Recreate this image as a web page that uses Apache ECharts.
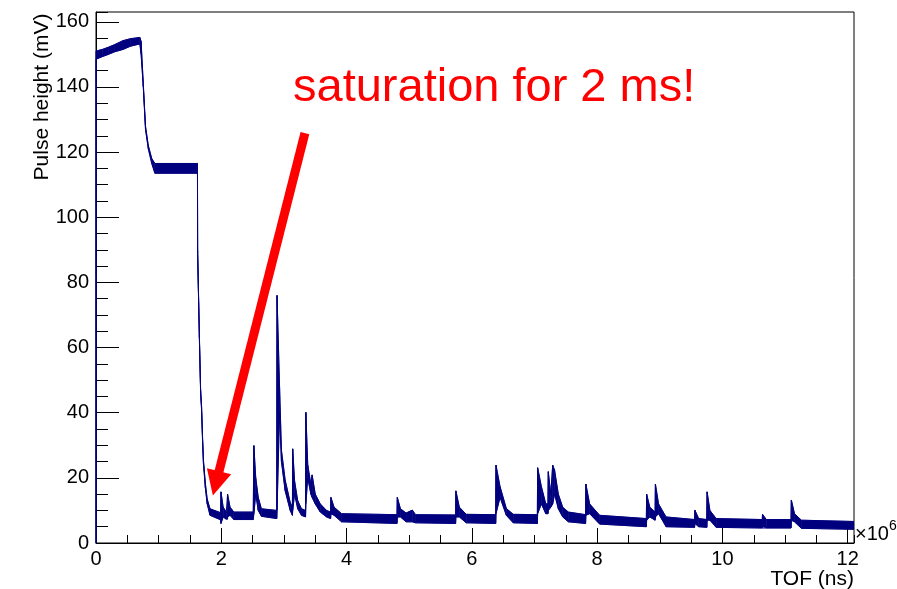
<!DOCTYPE html>
<html><head><meta charset="utf-8">
<script src="https://cdn.jsdelivr.net/npm/echarts@6/dist/echarts.min.js"></script>
<style>html,body{margin:0;padding:0;background:#fff}#c{width:897px;height:589px}</style>
</head><body><div id="c"></div>
<script>
// TOF in units of 1e6 ns
const tof = [
0, 0, 0.1, 0.2, 0.3, 0.43, 0.55, 0.70, 0.72, 0.755,
0.79, 0.835, 0.89, 0.94, 1.62, 1.622, 1.65, 1.67, 1.685, 1.70,
1.715, 1.745, 1.775, 1.82, 1.99, 1.995, 2.03, 2.08, 2.10, 2.10,
2.14, 2.2, 2.51, 2.52, 2.55, 2.59, 2.64, 2.885, 2.89, 2.93,
2.96, 3.02, 3.10, 3.135, 3.14, 3.17, 3.22, 3.28, 3.345, 3.35,
3.38, 3.43, 3.45, 3.5, 3.58, 3.68, 3.745, 3.75, 3.8, 3.92,
4.805, 4.81, 4.86, 4.95, 5.05, 5.1, 5.74, 5.745, 5.8, 5.91,
6.38, 6.385, 6.45, 6.55, 6.66, 7.045, 7.05, 7.11, 7.18, 7.215,
7.22, 7.26, 7.29, 7.32, 7.38, 7.45, 7.54, 7.815, 7.82, 7.88,
8.04, 8.785, 8.79, 8.84, 8.925, 8.93, 8.98, 9.10, 9.555, 9.56,
9.62, 9.75, 9.755, 9.8, 9.90, 10.635, 10.64, 10.7, 11.095, 11.10,
11.15, 11.26, 12.1
];
// upper edge of the noisy trace (mV)
const upper = [
0, 151, 151.5, 152.2, 153, 154.2, 154.8, 155.2, 154, 141,
128, 122, 118, 116.5, 116.5, 90, 64, 47, 42, 33,
25.5, 18.4, 13.5, 10.5, 9.3, 15.7, 11, 9.5, 9.5, 15,
11, 9.5, 9.5, 29.9, 20, 14, 10.5, 10, 76, 48,
28.5, 19.3, 12.5, 11, 28.9, 19, 13, 10.5, 10, 40.1,
24, 18, 20.9, 15, 12, 10, 9.5, 14, 11, 9,
8.7, 14, 10.5, 9.2, 10.1, 8.7, 8.6, 16, 11, 8.8,
8.7, 23.9, 17.3, 10.6, 8.8, 8.7, 23.1, 17.3, 12, 12,
21.9, 15, 23.9, 22.4, 15, 11, 9.5, 8.7, 18.1, 12,
8.5, 7.5, 15, 11, 9.5, 18.1, 12, 8, 7.2, 10.1,
7.5, 7.2, 15.7, 10, 7.5, 7.2, 8.8, 7.2, 7.2, 13.2,
9, 7, 6.6
];
// lower edge of the noisy trace (mV)
const lower = [
0, 148.5, 149.3, 150, 150.8, 151.5, 152.5, 153.2, 150, 140,
127, 121, 116.5, 113.5, 113.5, 89, 63, 46, 41, 32,
24.5, 17, 12, 8.5, 7.1, 6.0, 8, 7.3, 7.3, 8,
8.5, 7.2, 7.2, 9, 15, 10, 8.2, 7.5, 10, 40,
25, 16, 10, 8.5, 10, 15, 10.5, 8.5, 8, 12,
20, 15, 14, 12, 9.5, 8, 7.5, 9, 8.5, 6.5,
6.0, 8, 8, 6.5, 6.5, 6.2, 6.0, 8, 8, 6.2,
6.0, 9, 14, 8.5, 6.2, 6.0, 9, 12, 9, 9,
10, 11, 12, 15, 10.5, 8, 6.5, 6.0, 8.5, 9,
5.8, 5.0, 7, 8, 7, 8, 9, 5.0, 4.8, 6,
5, 4.8, 7, 7, 4.8, 4.6, 5, 4.6, 4.6, 7,
6.5, 4.5, 4.2
];
const arrowFrom = [3.335, 125.8];
const arrowTo = [1.915, 18.3];
const annotation = 'saturation for 2 ms!';
const xTitle = 'TOF (ns)';
const yTitle = 'Pulse height (mV)';

const navy = '#00007f';
const font = 'Liberation Sans, Arial, Helvetica, sans-serif';
const chart = echarts.init(document.getElementById('c'));

function xAx(interval, len, labels, line) {
  return {type:'value', min:0, max:12.1, interval:interval, position:'bottom',
    axisLine:{show:line, onZero:false, lineStyle:{color:'#000', width:1}},
    axisTick:{show:true, inside:true, length:len, lineStyle:{color:'#000', width:1}},
    axisLabel:{show:labels, showMaxLabel:false, fontSize:20, fontFamily:font, color:'#000', margin:6},
    splitLine:{show:false}};
}
function yAx(interval, len, labels, line) {
  return {type:'value', min:0, max:163, interval:interval, position:'left',
    axisLine:{show:line, onZero:false, lineStyle:{color:'#000', width:1}},
    axisTick:{show:true, inside:true, length:len, lineStyle:{color:'#000', width:1}},
    axisLabel:{show:labels, showMaxLabel:false, fontSize:20, fontFamily:font, color:'#000', margin:7},
    splitLine:{show:false}};
}

chart.setOption({
  animation:false,
  backgroundColor:'#fff',
  grid:{left:96, right:43, top:12, bottom:46, show:true, borderColor:'#000', borderWidth:1, backgroundColor:'transparent'},
  xAxis:[xAx(2, 15, true, true), xAx(0.5, 8, false, false)],
  yAxis:[yAx(20, 23, true, true), yAx(5, 12, false, false)],
  series:[
    {type:'custom', coordinateSystem:'cartesian2d', xAxisIndex:0, yAxisIndex:0, silent:true, clip:true,
     data: tof.map((x,i)=>[x, upper[i], lower[i]]), encode:{x:0, y:[1,2]},
     renderItem:function(params, api){
       const i = params.dataIndex;
       if (i >= tof.length - 1) return null;
       const pts = [api.coord([tof[i], upper[i]]), api.coord([tof[i+1], upper[i+1]]),
                    api.coord([tof[i+1], lower[i+1]]), api.coord([tof[i], lower[i]])];
       return {type:'polygon', shape:{points:pts}, style:{fill:navy, stroke:navy, lineWidth:0.6}};
     }},
    {type:'line', xAxisIndex:0, yAxisIndex:0, data: tof.map((x,i)=>[x, upper[i]]), showSymbol:false, symbol:'none',
     lineStyle:{color:navy, width:1}, silent:true, z:3},
    {type:'line', xAxisIndex:0, yAxisIndex:0, data: tof.map((x,i)=>[x, lower[i]]), showSymbol:false, symbol:'none',
     lineStyle:{color:navy, width:1}, silent:true, z:3,
     markLine:{silent:true, symbol:['none','triangle'], symbolSize:25, label:{show:false},
       lineStyle:{color:'#ff0000', width:9, type:'solid', opacity:1},
       emphasis:{disabled:true},
       data:[[{coord:arrowFrom},{coord:arrowTo}]]}}
  ],
  graphic:[
    {type:'text', x:42, y:97, rotation:Math.PI/2,
     style:{text:yTitle, font:'21px ' + font, fill:'#000', align:'center', verticalAlign:'middle'}},
    {type:'text', x:854, y:579,
     style:{text:xTitle, font:'21px ' + font, fill:'#000', align:'right', verticalAlign:'middle'}},
    {type:'text', x:855, y:534,
     style:{text:'\u00d710', font:'20px ' + font, fill:'#000', align:'left', verticalAlign:'middle'}},
    {type:'text', x:889, y:526,
     style:{text:'6', font:'14px ' + font, fill:'#000', align:'left', verticalAlign:'middle'}},
    {type:'text', x:293, y:88,
     style:{text:annotation, font:'47px ' + font, fill:'#ff0000', align:'left', verticalAlign:'middle'}}
  ]
});
</script></body></html>
